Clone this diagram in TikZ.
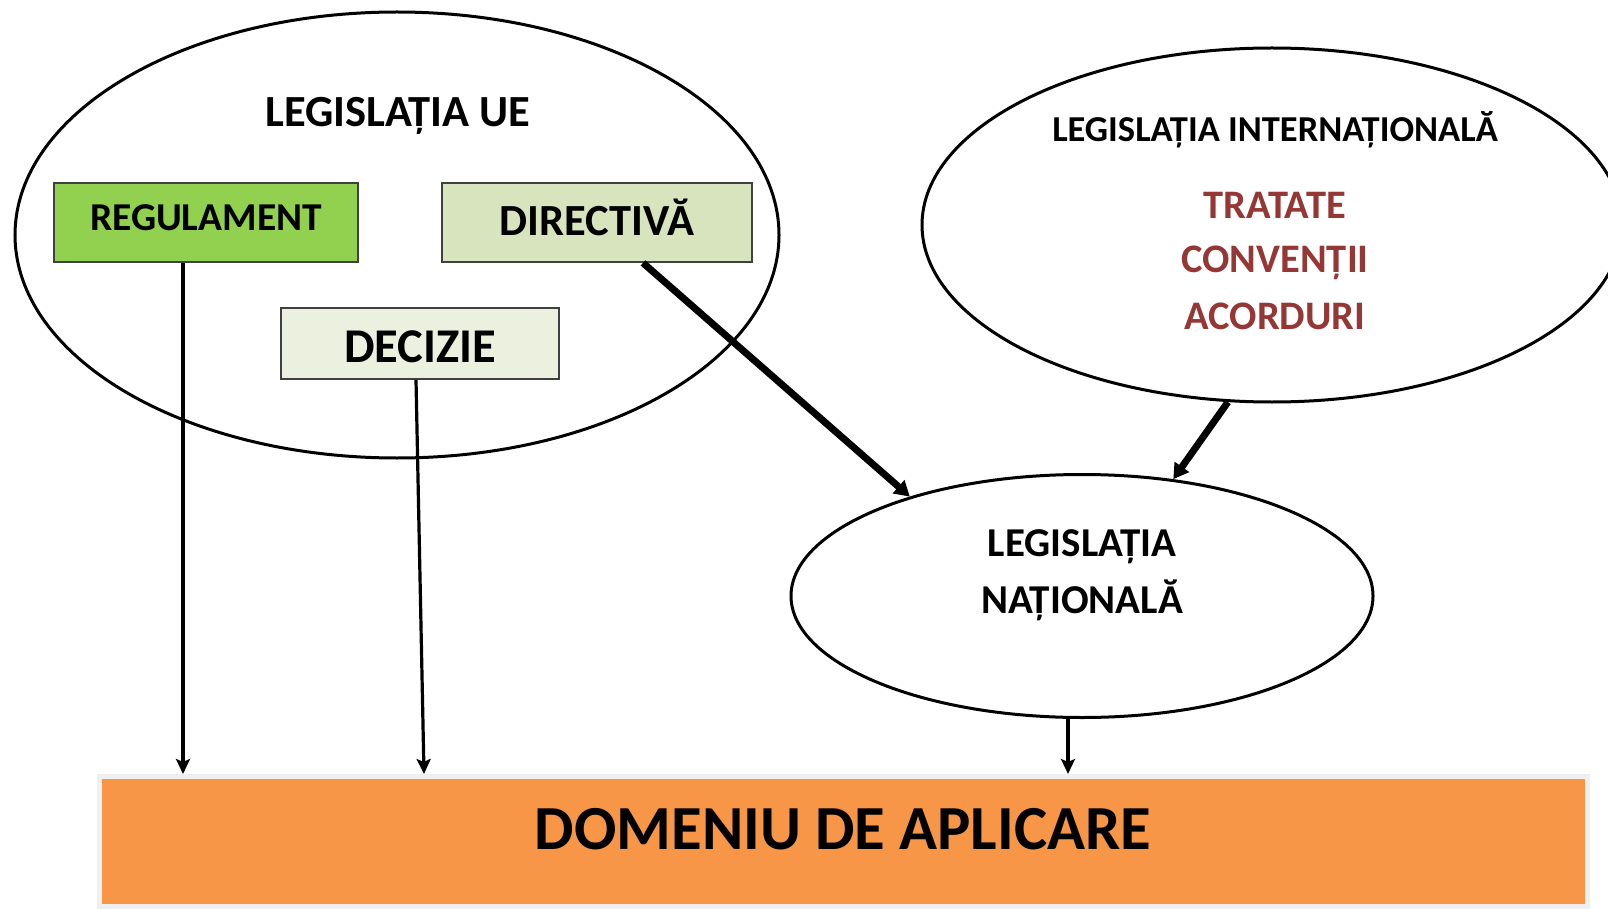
\documentclass[tikz,border=0pt]{standalone}
\usepackage{fontspec}
\setmainfont{Carlito}
\usetikzlibrary{arrows.meta,shapes.geometric}
\definecolor{regfill}{HTML}{92D050}
\definecolor{dirfill}{HTML}{D7E4BD}
\definecolor{decfill}{HTML}{EBF1DE}
\definecolor{domfill}{HTML}{F79646}
\definecolor{domedge}{HTML}{EFEFEF}
\definecolor{redtext}{HTML}{953735}
\begin{document}
\begin{tikzpicture}[x=1pt,y=-1pt,
  ell/.style={ellipse, draw, line width=3pt, inner sep=0pt},
  lawbox/.style={rectangle, draw=black!75, line width=1.8pt, inner sep=0pt},
  fs/.style={font=\bfseries\fontsize{#1}{#1}\selectfont},
  thinarrow/.style={line width=3.2pt, -{Stealth[length=15pt,width=14pt,inset=3pt]}},
  thickarrow/.style={line width=7pt, -{Triangle[length=15pt,width=17pt]}},
]
\useasboundingbox (0,0) rectangle (1608,909);
% EU legislation
\node[ell, minimum width=764pt, minimum height=446pt] (ue) at (397,235) {};
\node[fs=44.5] (uet) at (398,116) {LEGISLAȚIA UE};
\node[lawbox, fill=regfill, minimum width=304pt, minimum height=79pt, fs=39.5, text depth=10pt] (reg) at (206,222.5) {REGULAMENT};
\node[lawbox, fill=dirfill, minimum width=310pt, minimum height=79pt, fs=44.5, text depth=10pt] (dir) at (597,222.5) {DIRECTIVĂ};
\node[lawbox, fill=decfill, minimum width=278pt, minimum height=71pt, fs=48.5, text height=37pt, text depth=0pt] (dec) at (420,343.5) {DECIZIE};
% International legislation
\node[ell, minimum width=700pt, minimum height=354pt] (int) at (1272,225) {};
\node[fs=36.5] (intt) at (1275,130) {LEGISLAȚIA INTERNAȚIONALĂ};
\node[fs=40.5, text=redtext] (trat) at (1275,205) {TRATATE};
\node[fs=40.5, text=redtext] (conv) at (1275,263) {CONVENȚII};
\node[fs=40.5, text=redtext] (acor) at (1275,316) {ACORDURI};
% National legislation
\node[ell, minimum width=582pt, minimum height=243pt] (nat) at (1082,596) {};
\node[fs=41] (natt1) at (1082,547) {LEGISLAȚIA};
\node[fs=41] (natt2) at (1082,600) {NAȚIONALĂ};
% Scope
\node[rectangle, fill=domfill, draw=domedge, line width=5pt, inner sep=0pt,
      minimum width=1488pt, minimum height=130pt] (dom) at (843.5,841.5) {};
\node[fs=62.7] (domt) at (843,829) {DOMENIU DE APLICARE};
% Connectors
\draw[thinarrow] ([xshift=-23pt]reg.south) -- ([xshift=-23pt]reg.south |- dom.north);
\draw[thinarrow] ([xshift=-4pt]dec.south) -- ([xshift=4pt]dec.south |- dom.north);
\draw[thinarrow] ([xshift=-14pt]nat.south) -- ([xshift=-14pt]nat.south |- dom.north);
\draw[thickarrow] ([xshift=46pt]dir.south) -- (nat.150);
\draw[thickarrow] (int.256) -- (nat.52);
\end{tikzpicture}
\end{document}
